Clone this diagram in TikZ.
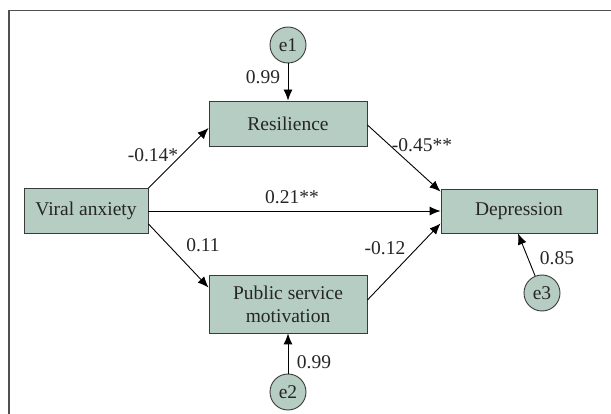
\documentclass[tikz,border=0pt]{standalone}
\usepackage{fontspec}
\setmainfont{Liberation Serif}
\newfontfamily\figfont{Liberation Serif}
\usetikzlibrary{arrows.meta,calc}
\definecolor{boxfill}{HTML}{B6CDC3}
\definecolor{boxline}{HTML}{3A3A3A}
\definecolor{framecol}{HTML}{505050}
\tikzset{
  varbox/.style={draw=boxline, fill=boxfill, line width=0.9pt, inner sep=0pt, align=center,
    font=\figfont\fontsize{19.5}{23}\selectfont, text=black!85},
  errnode/.style={draw=boxline, fill=boxfill, circle, line width=0.9pt, minimum size=36pt, inner sep=0pt,
    font=\figfont\fontsize{19.5}{23}\selectfont, text=black!85},
  lbl/.style={inner sep=0pt, font=\figfont\fontsize{19.5}{23}\selectfont, text=black!85},
  path/.style={draw=black, line width=0.9pt, -{Latex[length=11pt,width=9pt]}}
}
\begin{document}
\begin{tikzpicture}[x=1pt,y=-1pt]
\useasboundingbox (0,0) rectangle (611,414);
% frame
\draw[framecol, line width=1.5pt] (9,414) -- (9,10.5) -- (611,10.5);
% variables
\node[varbox, minimum width=158pt, minimum height=45pt] (res) at (288,123.5) {Resilience};
\node[varbox, minimum width=124pt, minimum height=45pt] (va) at (86,211) {Viral anxiety};
\node[varbox, minimum width=156pt, minimum height=44pt] (dep) at (519,211) {Depression};
\node[varbox, minimum width=158pt, minimum height=58pt] (psm) at (288,304) {Public service\\motivation};
% errors
\node[errnode] (e1) at (288,45) {e1};
\node[errnode] (e2) at (288,392) {e2};
\node[errnode] (e3) at (542,293) {e3};
% paths
\draw[path] (va.north east) -- ($(res.west)+(0,4.5)$);
\draw[path] ($(res.east)+(0,1.5)$) -- ($(dep.north west)+(0,3)$);
\draw[path] (va.east) -- (dep.west);
\draw[path] ($(va.south east)+(0,-10)$) -- ($(psm.north west)+(0,13)$);
\draw[path] ($(psm.east)+(0,-4)$) -- ($(dep.south west)+(0,-10)$);
\draw[path] (e1.south) -- (res.north);
\draw[path] (e2.north) -- (psm.south);
\coordinate (depin) at ($(dep.south)+(-1,0)$);
\draw[path] (e3) -- (depin);
% labels
\node[lbl] (l1) at (263,77) {0.99};
\node[lbl] (l2) at (153,155) {-0.14*};
\node[lbl] (l3) at (422,145) {-0.45**};
\node[lbl] (l4) at (292,197) {0.21**};
\node[lbl] (l5) at (203,245) {0.11};
\node[lbl] (l6) at (385,248) {-0.12};
\node[lbl] (l7) at (557,258) {0.85};
\node[lbl] (l8) at (314,362) {0.99};
\end{tikzpicture}
\end{document}
